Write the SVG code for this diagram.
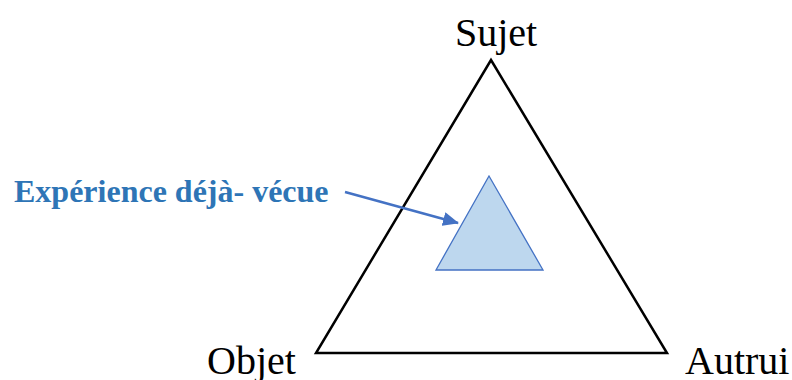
<svg xmlns="http://www.w3.org/2000/svg" width="792" height="380" viewBox="0 0 792 380">
<style>
.lbl{font-family:"Liberation Serif","Times New Roman",serif;font-size:40px;fill:#000}
.blue{font-family:"Liberation Serif","Times New Roman",serif;font-size:32px;font-weight:bold;fill:#2E75B6}
</style>
<defs>
<marker id="ah" markerWidth="16" markerHeight="14" refX="15" refY="7" orient="auto" markerUnits="userSpaceOnUse">
<path d="M0,0 L16,7 L0,14 z" fill="#4472C4"/>
</marker>
</defs>
<rect width="792" height="380" fill="#fff"/>
<g id="outer">
<polygon points="491,60 667,353 316,353" fill="none" stroke="#000" stroke-width="2.5" stroke-linejoin="miter"/>
</g>
<g id="inner">
<polygon points="489,176 543,270 436,270" fill="#BDD7EE" stroke="#4472C4" stroke-width="1.3"/>
</g>
<g id="sujet"><text class="lbl" x="455" y="46">Sujet</text></g>
<g id="objet"><text class="lbl" x="207" y="374">Objet</text></g>
<g id="autrui"><text class="lbl" x="685" y="374">Autrui</text></g>
<g id="experience"><text class="blue" x="14" y="202">Expérience déjà- vécue</text></g>
<g id="connectors">
<line x1="345" y1="192" x2="458" y2="223" stroke="#4472C4" stroke-width="2.5" marker-end="url(#ah)"/>
</g>
</svg>
